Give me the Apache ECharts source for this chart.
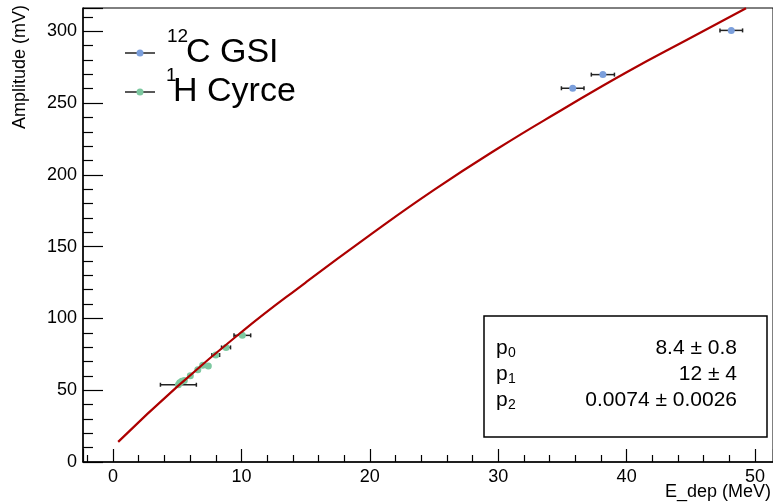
<!DOCTYPE html>
<html lang="en">
<head>
<meta charset="UTF-8">
<title>Amplitude vs E_dep</title>
<style>
    html,body{margin:0;padding:0;background:#fff;}
    #main{width:773px;height:504px;}
</style>
</head>
<body>
<div id="main"></div>
<script src="https://cdn.jsdelivr.net/npm/echarts@6/dist/echarts.min.js"></script>
<script>
// 12C GSI points: E_dep (MeV), amplitude (mV), x error
var gsiX = [35.8, 38.15, 48.15];
var gsiY = [260.3, 269.8, 300.6];
var gsiErr = [0.88, 0.9, 0.88];

// 1H Cyrce points
var cyrceX = [5.09, 5.19, 5.35, 5.55, 6.02, 6.6, 6.98, 7.42, 8.0, 8.8, 10.07];
var cyrceY = [53.8, 55.2, 56.3, 56.8, 60.1, 64.3, 67.3, 66.8, 74.5, 79.8, 88.2];
var cyrceErr = [1.4, 0.15, 0.15, 0.15, 0.15, 0.15, 0.15, 0.15, 0.3, 0.35, 0.65];

// fit curve
var fitX = [0.4, 5, 10, 15, 20, 25, 30, 35, 40, 45, 49.3];
var fitY = [14, 52.5, 90.5, 125, 158, 189.5, 218.5, 245.5, 271.5, 295.5, 316];

// fit parameters box
var parNames = ['0', '1', '2'];
var parValues = ['8.4 \u00b1 0.8', '12 \u00b1 4', '0.0074 \u00b1 0.0026'];

var FONT = '"Liberation Sans", Arial, Helvetica, sans-serif';

function pairs(xs, ys, es) {
    return xs.map(function (x, i) {
        return es ? [x, ys[i], es[i]] : [x, ys[i]];
    });
}

function errorBars(params, api) {
    var x = api.value(0), y = api.value(1), e = api.value(2);
    var l = api.coord([x - e, y]);
    var r = api.coord([x + e, y]);
    var st = {stroke: '#222', lineWidth: 1.5};
    return {
        type: 'group',
        children: [
            {type: 'line', shape: {x1: l[0], y1: l[1], x2: r[0], y2: r[1]}, style: st},
            {type: 'line', shape: {x1: l[0], y1: l[1] - 2, x2: l[0], y2: l[1] + 2}, style: st},
            {type: 'line', shape: {x1: r[0], y1: r[1] - 2, x2: r[0], y2: r[1] + 2}, style: st}
        ]
    };
}

// legend + stats box + axis titles as graphic
var graphics = [];
function txt(s, x, y, size, align) {
    graphics.push({
        type: 'text', x: x, y: y, z: 100,
        style: {text: s, fill: '#000', font: size + 'px ' + FONT,
            textAlign: align || 'left', textVerticalAlign: 'middle'}
    });
}
var legendRows = [
    {sup: '12', name: 'C GSI', color: '#7b9fdc', y: 53, supX: 167, nameX: 186},
    {sup: '1', name: 'H Cyrce', color: '#7dc8a0', y: 92, supX: 166, nameX: 173}
];
legendRows.forEach(function (r) {
    graphics.push({type: 'line', z: 100, shape: {x1: 125, y1: r.y, x2: 155, y2: r.y},
        style: {stroke: '#222', lineWidth: 1.5}});
    graphics.push({type: 'circle', z: 101, shape: {cx: 140, cy: r.y, r: 3.5},
        style: {fill: r.color}});
    txt(r.sup, r.supX, r.y - 16, 19);
    txt(r.name, r.nameX, r.y, 34);
});

graphics.push({type: 'rect', z: 99, shape: {x: 484, y: 316, width: 283, height: 121},
    style: {fill: '#fff', stroke: '#000', lineWidth: 1.5}});
var rowY = [348.3, 374.3, 399.8];
parNames.forEach(function (p, i) {
    txt('p', 496, rowY[i], 21);
    txt(p, 508, rowY[i] + 5, 14);
    txt(parValues[i], 737, rowY[i], 21, 'right');
});

graphics.push({type: 'text', x: 20, y: 5, rotation: Math.PI / 2, z: 100,
    style: {text: 'Amplitude (mV)', fill: '#000', font: '18px ' + FONT,
        textAlign: 'right', textVerticalAlign: 'middle'}});
txt('E_dep (MeV)', 771, 492, 18, 'right');

var myChart = echarts.init(document.getElementById('main'));
var option = {
    backgroundColor: '#fff',
    animation: false,
    grid: {
        left: 83, right: 0, top: 8, bottom: 42,
        show: true, borderColor: '#000', borderWidth: 1,
        containLabel: false, outerBoundsMode: 'none'
    },
    xAxis: {
        type: 'value',
        min: -2.34, max: 51.4,
        splitNumber: 5,
        axisLine: {onZero: false, lineStyle: {color: '#000', width: 1.5}},
        axisTick: {inside: true, length: 13, lineStyle: {color: '#000', width: 1.2}},
        minorTick: {show: true, splitNumber: 5, length: 7, lineStyle: {color: '#000', width: 1.2}},
        splitLine: {show: false},
        axisLabel: {color: '#000', fontSize: 18, fontFamily: FONT, margin: 6,
            showMinLabel: false, showMaxLabel: false}
    },
    yAxis: {
        type: 'value',
        min: 0, max: 316.2, interval: 50,
        axisLine: {onZero: false, lineStyle: {color: '#000', width: 1.5}},
        axisTick: {inside: true, length: 20, lineStyle: {color: '#000', width: 1.2}},
        minorTick: {show: true, splitNumber: 5, length: 10, lineStyle: {color: '#000', width: 1.2}},
        splitLine: {show: false},
        axisLabel: {color: '#000', fontSize: 18, fontFamily: FONT, margin: 6,
            showMinLabel: true, showMaxLabel: false}
    },
    series: [
        {
            name: 'gsiErr', type: 'custom', renderItem: errorBars, z: 2,
            encode: {x: 0, y: 1}, data: pairs(gsiX, gsiY, gsiErr)
        },
        {
            name: 'cyrceErr', type: 'custom', renderItem: errorBars, z: 2,
            encode: {x: 0, y: 1}, data: pairs(cyrceX, cyrceY, cyrceErr)
        },
        {
            name: '12C GSI', type: 'scatter', symbolSize: 7, z: 3,
            itemStyle: {color: '#7b9fdc', opacity: 1},
            data: pairs(gsiX, gsiY)
        },
        {
            name: '1H Cyrce', type: 'scatter', symbolSize: 7, z: 3,
            itemStyle: {color: '#7dc8a0', opacity: 1},
            data: pairs(cyrceX, cyrceY)
        },
        {
            name: 'fit', type: 'line', smooth: true,
            showSymbol: false, z: 4,
            lineStyle: {color: '#ad0000', width: 2.2},
            data: pairs(fitX, fitY)
        }
    ],
    graphic: graphics
};
myChart.setOption(option);
</script>
</body>
</html>
